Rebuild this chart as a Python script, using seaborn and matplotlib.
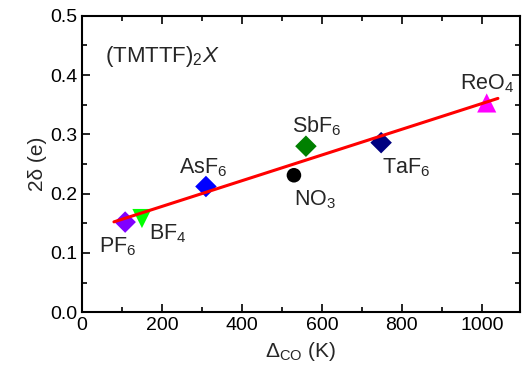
import numpy as np
import pandas as pd
import matplotlib
matplotlib.use("Agg")
import matplotlib.pyplot as plt
from matplotlib.ticker import MultipleLocator, FormatStrFormatter
import seaborn as sns

# Charge-ordering temperature scale vs. charge disproportionation for (TMTTF)2X salts
anions = ["PF6", "BF4", "AsF6", "NO3", "SbF6", "TaF6", "ReO4"]
delta_co = [108, 150, 310, 530, 560, 748, 1012]
two_delta = [0.152, 0.158, 0.212, 0.231, 0.280, 0.286, 0.353]
colors = ["#8000ff", "#00ff00", "#0000ff", "#000000", "#008000", "#000080", "#ff00ff"]
markers = ["D", "v", "D", "o", "D", "D", "^"]
marker_area = [120, 190, 120, 110, 120, 120, 190]
labels = [r"PF$_6$", r"BF$_4$", r"AsF$_6$", r"NO$_3$", r"SbF$_6$", r"TaF$_6$", r"ReO$_4$"]
label_x = [42, 168, 243, 530, 525, 750, 946]
label_y = [0.110, 0.133, 0.243, 0.189, 0.314, 0.243, 0.385]

# Linear fit
fit_slope = 0.000217
fit_intercept = 0.1350
fit_range = [80, 1040]

sns.set_theme(style="ticks")
plt.rcParams["font.family"] = ["Liberation Sans", "DejaVu Sans"]
plt.rcParams["mathtext.fontset"] = "custom"
plt.rcParams["mathtext.rm"] = "Liberation Sans"
plt.rcParams["mathtext.it"] = "Liberation Sans:italic"

fig = plt.figure(figsize=(5.22, 3.77), dpi=100)
ax = fig.add_axes([0.157, 0.172, 0.839, 0.786])

df = pd.DataFrame({"x": delta_co, "y": two_delta, "anion": anions})
sns.scatterplot(data=df, x="x", y="y", hue="anion", style="anion", size="anion",
                palette=dict(zip(anions, colors)),
                markers=dict(zip(anions, markers)),
                sizes=dict(zip(anions, marker_area)),
                linewidth=0, legend=False, ax=ax, zorder=2)

fx = np.array(fit_range, dtype=float)
fy = fit_intercept + fit_slope * fx
sns.lineplot(x=fx, y=fy, color="#ff0000", linewidth=2.2, ax=ax, zorder=3)

for lab, lx, ly in zip(labels, label_x, label_y):
    ax.text(lx, ly, lab, fontsize=15.5, ha="left", va="center")

ax.text(58, 0.431, r"(TMTTF)$_2$$\it{X}$", fontsize=16, ha="left", va="center")

ax.set_xlim(0, 1095)
ax.set_ylim(0.0, 0.5)
ax.xaxis.set_major_locator(MultipleLocator(200))
ax.xaxis.set_minor_locator(MultipleLocator(100))
ax.yaxis.set_major_locator(MultipleLocator(0.1))
ax.yaxis.set_minor_locator(MultipleLocator(0.05))
ax.yaxis.set_major_formatter(FormatStrFormatter("%.1f"))
ax.tick_params(which="both", direction="in", top=True, right=True,
               labelsize=14, width=1.2, colors="black")
ax.tick_params(which="major", length=6)
ax.tick_params(which="minor", length=3.5)
for sp in ax.spines.values():
    sp.set_linewidth(1.5)
    sp.set_color("black")

ax.set_xlabel(r"$\Delta_{\rm CO}$ (K)", fontsize=15)
ax.set_ylabel("2δ (e)", fontsize=15, labelpad=2)

fig.savefig("out.png", dpi=100, facecolor="white")
